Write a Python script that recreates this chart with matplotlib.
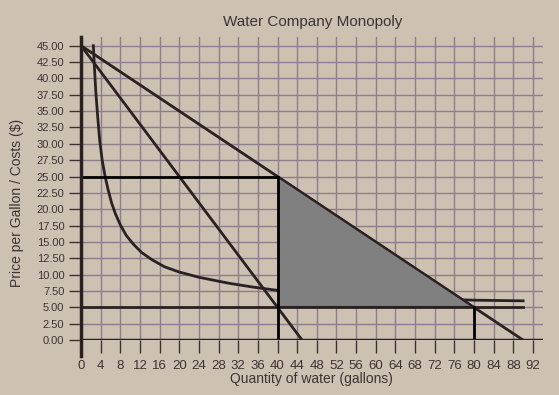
import matplotlib.pyplot as plt
from matplotlib.patches import Polygon

# --- data ---
demand_q = [0, 90]
demand_p = [45, 0]
mr_q = [0, 45]
mr_p = [45, 0]
mc_q = [0, 90]
mc_p = [5, 5]
atc_q = [2.5, 2.7, 3.0, 3.4, 3.8, 4.3, 4.9, 5.5, 6.2, 7.0, 8.0, 9.2, 10.6, 12.3,
         14.4, 17.0, 20.0, 24.0, 30.0, 35.0, 40.0, 50.0, 60.0, 70.0, 80.0, 90.0]
atc_p = [45.0, 42.0, 38.0, 34.0, 30.5, 27.5, 25.0, 23.0, 21.0, 19.3, 17.6, 16.0, 14.7, 13.4,
         12.3, 11.2, 10.4, 9.6, 8.7, 8.1, 7.6, 7.0, 6.6, 6.3, 6.1, 6.0]

monopoly_q, monopoly_p = 40, 25
comp_q, mc_level = 80, 5

x_ticks = list(range(0, 93, 4))
y_ticks = [i * 2.5 for i in range(19)]

BG = '#cdc1b2'
C_GRID = '#8c7e8e'
C_LINE = '#2a2222'
C_TEXT = '#3a3434'

plt.rcParams['font.family'] = ['Liberation Sans', 'DejaVu Sans']

fig = plt.figure(figsize=(5.59, 3.95), dpi=100, facecolor=BG)
ax = fig.add_axes([0.145, 0.139, 0.826, 0.767], facecolor=BG)

ax.set_xlim(0, 94)
ax.set_ylim(0, 46.3)

# grid
for x in x_ticks:
    ax.axvline(x, color=C_GRID, lw=1, zorder=0)
for y in y_ticks:
    ax.axhline(y, color=C_GRID, lw=1, zorder=0)

# curves
ax.plot(atc_q, atc_p, color=C_LINE, lw=2, zorder=2)
ax.plot(demand_q, demand_p, color=C_LINE, lw=2, zorder=2)
ax.plot(mr_q, mr_p, color=C_LINE, lw=2, zorder=2)
ax.plot(mc_q, mc_p, color=C_LINE, lw=2, zorder=2)

# deadweight loss triangle
tri = Polygon([(monopoly_q, monopoly_p), (monopoly_q, mc_level), (comp_q, mc_level)],
              closed=True, facecolor='#808080', edgecolor='none', zorder=3)
ax.add_patch(tri)
ax.plot([comp_q - 0.3, monopoly_q], [mc_level, mc_level], color=C_LINE, lw=1.5, zorder=4)
ax.plot([monopoly_q, comp_q], [monopoly_p, mc_level], color=C_LINE, lw=1.5, zorder=4)

# black guide lines
ax.plot([0, monopoly_q], [monopoly_p, monopoly_p], color='black', lw=2, zorder=5)
ax.plot([monopoly_q, monopoly_q], [0, monopoly_p], color='black', lw=2, zorder=5)
ax.plot([comp_q, comp_q], [0, mc_level], color='black', lw=2, zorder=5)

# axes lines
ax.plot([0, 0], [-2.4, 46.3], color=C_LINE, lw=2.5, clip_on=False, zorder=6)
ax.axhline(0, color=C_LINE, lw=2.5, zorder=6)
for s in ax.spines.values():
    s.set_visible(False)

ax.set_xticks(x_ticks)
ax.set_yticks(y_ticks)
ax.set_yticklabels([f'{v:.2f}' for v in y_ticks])
ax.tick_params(axis='x', length=9, width=1, color=C_TEXT, labelcolor=C_TEXT,
               labelsize=9.5, pad=5)
ax.tick_params(axis='y', length=9, width=1, color=C_TEXT, labelcolor=C_TEXT,
               labelsize=8, pad=3)

ax.set_xlabel('Quantity of water (gallons)', fontsize=10, color=C_TEXT, labelpad=0)
ax.set_ylabel('Price per Gallon / Costs ($)', fontsize=10, color=C_TEXT)
ax.yaxis.set_label_coords(-0.123, 0.452)
fig.text(0.56, 0.945, 'Water Company Monopoly', fontsize=11, color=C_TEXT,
         ha='center', va='center')

fig.savefig('out.png', dpi=100, facecolor=BG)
